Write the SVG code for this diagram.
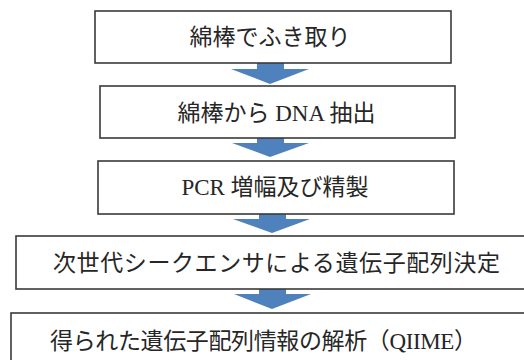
<svg xmlns="http://www.w3.org/2000/svg" width="524" height="360" viewBox="0 0 524 360">
<style>
.box{fill:#fff;stroke:#3a3a3a;stroke-width:1.6}
.lbl{font-family:"Liberation Serif","Noto Sans CJK JP",serif;font-size:23px;fill:#262626;text-anchor:middle;dominant-baseline:central}
.arr{fill:#4f81bd}
</style>
<rect width="524" height="360" fill="#fff"/>
<g id="connectors">
<polygon class="arr" points="257,63 284,63 284,69 309,69 270,84 231,69 257,69"/>
<polygon class="arr" points="257,138 284,138 284,143 309,143 270,157 232,143 257,143"/>
<polygon class="arr" points="259,214 286,214 286,219 310,219 272,233 233,219 259,219"/>
<polygon class="arr" points="259,289 286,289 286,294 311,294 272,309 234,294 259,294"/>
</g>
<g id="n1"><rect class="box" x="95" y="11" width="356" height="52"/><text class="lbl" x="270" y="37.5">綿棒でふき取り</text></g>
<g id="n2"><rect class="box" x="100" y="86" width="355" height="52"/><text class="lbl" x="276.5" y="113">綿棒から DNA 抽出</text></g>
<g id="n3"><rect class="box" x="98" y="161" width="356" height="53"/><text class="lbl" x="275" y="187">PCR 増幅及び精製</text></g>
<g id="n4"><rect class="box" x="16" y="236" width="530" height="53"/><text class="lbl" x="276.5" y="263" textLength="447" lengthAdjust="spacing">次世代シークエンサによる遺伝子配列決定</text></g>
<g id="n5"><rect class="box" x="11" y="313" width="535" height="60"/><text class="lbl" x="263.5" y="341" textLength="427" lengthAdjust="spacing">得られた遺伝子配列情報の解析（QIIME）</text></g>
</svg>
